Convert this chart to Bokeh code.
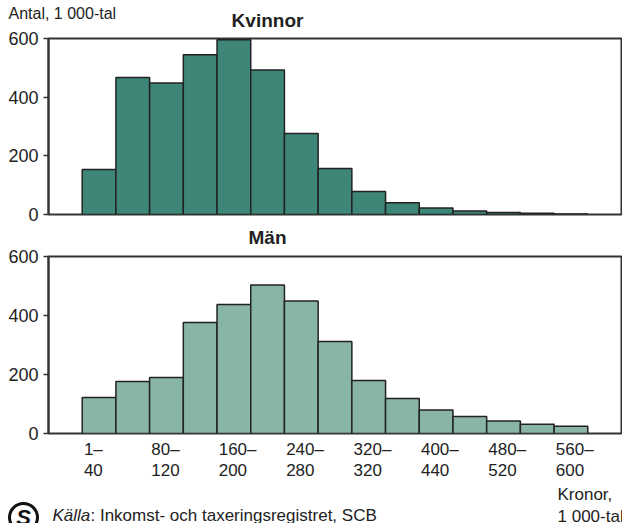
from bokeh.plotting import figure
from bokeh.models import Range1d, FixedTicker, ColumnDataSource
from bokeh.layouts import column
from bokeh.core.properties import value
from bokeh.embed import file_html
from bokeh.resources import INLINE

# Income bins (kronor, 1 000-tal)
bins = ["1–40", "40–80", "80–120", "120–160", "160–200", "200–240", "240–280",
        "280–320", "320–360", "360–400", "400–440", "440–480", "480–520",
        "520–560", "560–600"]
# Antal, 1 000-tal
women = [153, 467, 448, 545, 596, 493, 276, 157, 78, 40, 22, 12, 7, 4, 2]
men = [122, 176, 190, 376, 437, 503, 449, 312, 180, 119, 80, 58, 42, 31, 25]

tick_labels = ["1–\n40", "80–\n120", "160–\n200", "240–\n280",
               "320–\n320", "400–\n440", "480–\n520", "560–\n600"]
y_ticks = [0, 200, 400, 600]

WOMEN_COLOR = "#3e8778"
MEN_COLOR = "#88b5a8"
INK = "#222222"
FONT = "Liberation Sans"

W = 622
LEFT, RIGHT = 48, 1            # frame borders of the panels
X0, X1 = -1, len(bins) + 1      # bin units of the panel frames
UNIT = (W - LEFT - RIGHT) / (X1 - X0)


def px2x(px):
    return X0 + (px - LEFT) / UNIT


def panel(h, top, bottom, values, color):
    p = figure(width=W, height=h, x_range=Range1d(X0, X1), y_range=Range1d(0, 600),
               output_backend="svg", toolbar_location=None, title=None,
               min_border_left=LEFT, min_border_right=RIGHT,
               min_border_top=top, min_border_bottom=bottom)
    p.xaxis.visible = False
    p.xgrid.visible = False
    p.ygrid.visible = False
    p.outline_line_color = "#333333"
    p.outline_line_width = 2
    ya = p.yaxis[0]
    ya.ticker = FixedTicker(ticks=y_ticks)
    ya.axis_line_color = "#333333"
    ya.axis_line_width = 2
    ya.major_tick_line_color = "#333333"
    ya.major_tick_line_width = 1.5
    ya.major_tick_out = 5
    ya.major_tick_in = 0
    ya.minor_tick_line_color = None
    ya.major_label_standoff = 5
    ya.major_label_text_font = FONT
    ya.major_label_text_font_size = "18px"
    ya.major_label_text_color = INK
    src = ColumnDataSource(dict(x=[i + 0.5 for i in range(len(bins))], top=values, bin=bins))
    p.vbar(x="x", top="top", bottom=0, width=1, source=src,
           fill_color=color, line_color=INK, line_width=1.5)
    return p


def text_panel(h, x_range, y_range):
    f = figure(width=W, height=h, x_range=x_range, y_range=y_range,
               output_backend="svg", toolbar_location=None, title=None,
               min_border=0, frame_align=False)
    f.xaxis.visible = False
    f.yaxis.visible = False
    f.xgrid.visible = False
    f.ygrid.visible = False
    f.outline_line_color = None
    return f


def put(f, x, baseline, txt, size=17, style="normal", align="left"):
    # text is centred vertically; convert wanted baseline to centre
    f.text(x=[x], y=[baseline - 0.35 * size], text=[txt], text_font=value(FONT),
           text_font_size=f"{size}px", text_font_style=style, text_color=INK,
           text_align=align, text_baseline="middle")


# header (page y 0..28)
head = text_panel(28, Range1d(0, W), Range1d(28, 0))
put(head, 8, 18.5, "Antal, 1 000-tal", size=16)
put(head, 267, 26.5, "Kvinnor", size=19, style="bold", align="center")

p1 = panel(194, 10, 8, women, WOMEN_COLOR)           # page y 28..222

mid = text_panel(25, Range1d(0, W), Range1d(247, 222))
put(mid, 267, 244, "Män", size=19, style="bold", align="center")

p2 = panel(194, 9, 8, men, MEN_COLOR)                # page y 247..441

# footer (page y 441..523), x in bin units aligned with the panels
foot = text_panel(82, Range1d(px2x(0), px2x(W)), Range1d(523, 441))
tick_idx = list(range(0, len(bins), 2))
line1 = [t.split("\n")[0] for t in tick_labels]
line2 = [t.split("\n")[1] for t in tick_labels]
xs = [i + 0.05 for i in tick_idx]
for txt, base in ((line1, 455), (line2, 475)):
    foot.text(x=xs, y=[base - 0.35 * 17] * len(xs), text=txt, text_font=value(FONT),
              text_font_size="17px", text_color=INK, text_align="left",
              text_baseline="middle")
put(foot, px2x(557), 500, "Kronor,")
put(foot, px2x(557), 521.5, "1 000-tal")
put(foot, px2x(52), 521, "Källa", style="italic")
put(foot, px2x(90), 521, ": Inkomst- och taxeringsregistret, SCB")
# SCB logo (approximation)
foot.circle(x=[px2x(23)], y=[517], radius=14, radius_units="screen",
            fill_color=None, line_color="#111111", line_width=3)
foot.text(x=[px2x(23)], y=[517], text=["S"], text_font=value(FONT),
          text_font_size="22px", text_font_style="bold italic", text_color="#111111",
          text_align="center", text_baseline="middle")

layout = column(head, p1, mid, p2, foot)
open("out.html", "w").write(file_html(layout, INLINE))
